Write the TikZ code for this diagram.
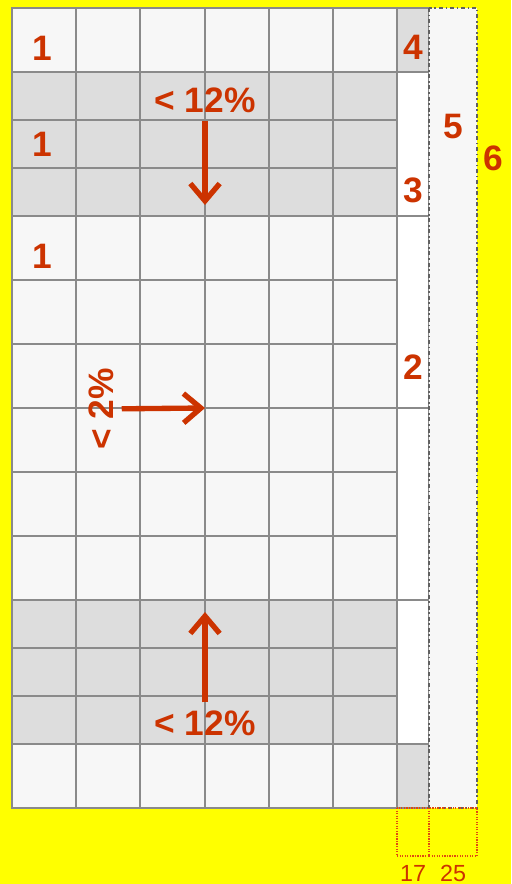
\documentclass[tikz,border=0pt]{standalone}
\usepackage{fontspec}
\setmainfont{Liberation Sans}
\usetikzlibrary{arrows.meta,positioning}
\definecolor{bgyellow}{HTML}{FFFF00}
\definecolor{cellgray}{HTML}{DDDDDD}
\definecolor{celllight}{HTML}{F7F7F7}
\definecolor{linegray}{HTML}{8A8A8A}
\definecolor{labelred}{HTML}{CC3300}
\definecolor{guidered}{HTML}{E04A10}

\begin{document}
\begin{tikzpicture}[x=0.75pt, y=-0.75pt,
    num/.style={text=labelred, font=\fontsize{26.5}{30}\selectfont\bfseries, inner sep=0pt},
    widthlabel/.style={text=labelred, font=\fontsize{17.5}{20}\selectfont, inner sep=0pt},
    arrowline/.style={draw=labelred, line width=4pt, -{Straight Barb[length=13pt,width=22pt]}},
    gridline/.style={draw=linegray, line width=1pt}]
    \fill [bgyellow] (0,0) rectangle (511,884);
    \useasboundingbox (0,0) rectangle (511,884);

    % row bands
    \fill [celllight] (12,8) rectangle (397,72);
    \fill [cellgray] (12,72) rectangle (397,216);
    \fill [celllight] (12,216) rectangle (397,600);
    \fill [cellgray] (12,600) rectangle (397,744);
    \fill [celllight] (12,744) rectangle (397,808);
    \fill [cellgray] (397,8) rectangle (429,72);
    \fill [white] (397,72) rectangle (429,744);
    \fill [cellgray] (397,744) rectangle (429,808);

    % grid
    \draw [gridline] (12,8) rectangle (429,808);
    \draw [gridline] (76,8) -- (76,808) (140,8) -- (140,808) (205,8) -- (205,808)
        (269,8) -- (269,808) (333,8) -- (333,808) (397,8) -- (397,808);
    \draw [gridline] (12,72) -- (429,72) (12,216) -- (429,216) (12,408) -- (429,408)
        (12,600) -- (429,600) (12,744) -- (429,744);
    \draw [gridline] (12,120) -- (397,120) (12,168) -- (397,168) (12,280) -- (397,280)
        (12,344) -- (397,344) (12,472) -- (397,472) (12,536) -- (397,536)
        (12,648) -- (397,648) (12,696) -- (397,696);

    % outer column
    \draw [linegray!70!black, line width=1.3pt, dash dot, fill=celllight] (429,8) rectangle (477,808);
    \draw [guidered, line width=0.9pt, densely dotted] (397,808) rectangle (429,856) (429,808) rectangle (477,856);

    \node (one top) [num] at (42,48) {1};
    \node (one mid) [num] at (42,144) {1};
    \node (one low) [num] at (42,256) {1};
    \node (four) [num] at (413,47) {4};
    \node (three) [num] at (413,190) {3};
    \node (two) [num] at (413,367) {2};
    \node (five) [num] at (453,127) {5};
    \node (six) [num] at (493,158) {6};
    \node (w17) [widthlabel] at (413,873) {17};
    \node (w25) [widthlabel] at (453,873) {25};

    \node (top pct) [num] at (205,100) {< 12\%};
    \node (bottom pct) [num] at (205,723) {< 12\%};
    \node (side pct) [num, rotate=90] at (101,409) {< 2\%};
    \coordinate (top tip) at (205,205);
    \coordinate (bottom tip) at (205,612);
    \coordinate (side tip) at (205,408);

    \draw [arrowline, shorten <=6pt] (top pct) -- (top tip);
    \draw [arrowline, shorten <=6pt] (bottom pct) -- (bottom tip);
    \draw [arrowline, shorten <=6pt] (side pct) -- (side tip);
\end{tikzpicture}
\end{document}
